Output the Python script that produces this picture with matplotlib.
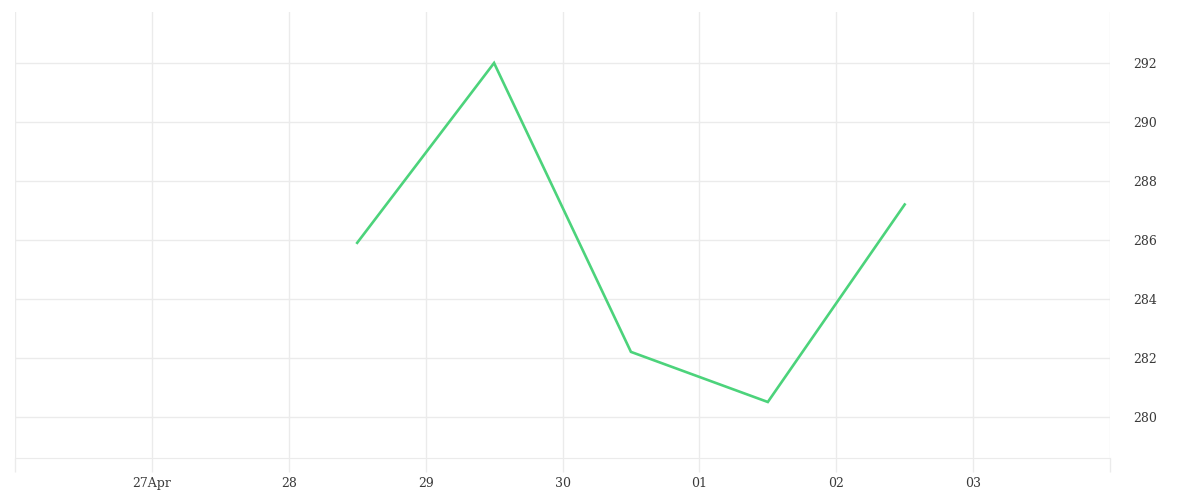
import numpy as np
import pandas as pd
import matplotlib
matplotlib.use("Agg")
import matplotlib.pyplot as plt
import matplotlib.dates as mdates

# data
dates = ["2024-04-28 12:00", "2024-04-29 12:00", "2024-04-30 12:00",
         "2024-05-01 12:00", "2024-05-02 12:00"]
values = [285.9, 292.0, 282.2, 280.5, 287.2]
tick_days = ["2024-04-26", "2024-04-27", "2024-04-28", "2024-04-29", "2024-04-30",
             "2024-05-01", "2024-05-02", "2024-05-03", "2024-05-04"]
tick_labels = ["", "27Apr", "28", "29", "30", "01", "02", "03", ""]
y_ticks = [280, 282, 284, 286, 288, 290, 292]

grid_color = "#ebebeb"
text_color = "#3a3a3a"
line_color = "#4cd37b"

plt.rcParams["font.family"] = ["DejaVu Serif"]

fig = plt.figure(figsize=(12, 5), dpi=100)
ax = fig.add_axes([15 / 1200, 42 / 500, 1095 / 1200, 446 / 500])

x = pd.to_datetime(dates)
ax.plot(x, values, color=line_color, lw=1.9, solid_joinstyle="miter")

ticks = pd.to_datetime(tick_days)
ax.set_xlim(ticks[0], ticks[-1])
ax.set_ylim(278.6, 293.73)

ax.set_xticks(ticks)
ax.set_xticklabels(tick_labels)
ax.set_yticks(y_ticks)

ax.yaxis.tick_right()
ax.tick_params(axis="y", length=0, pad=17, labelsize=9, labelcolor=text_color)
ax.tick_params(axis="x", length=10, width=1, color=grid_color, pad=4,
               labelsize=9, labelcolor=text_color)

ax.grid(True, color=grid_color, lw=1)
ax.set_axisbelow(True)

for s in ["top", "left", "right"]:
    ax.spines[s].set_visible(False)
ax.spines["bottom"].set_color(grid_color)

fig.savefig("out.png", dpi=100, facecolor="white")
